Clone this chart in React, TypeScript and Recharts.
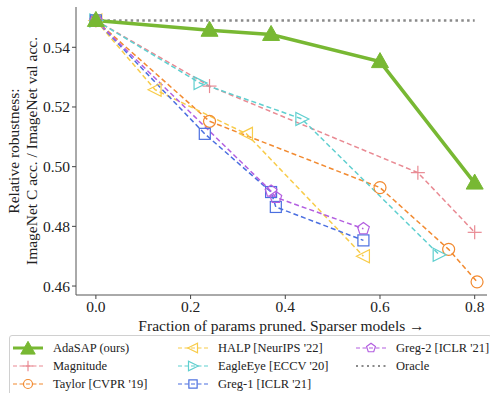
import React from 'react'
import { LineChart, Line, XAxis, YAxis } from 'recharts'

const xTicks = [0, 0.2, 0.4, 0.6, 0.8]
const yTicks = [0.46, 0.48, 0.5, 0.52, 0.54]

const adasapX = [0, 0.24, 0.37, 0.6, 0.8]
const adasapY = [0.549, 0.5457, 0.5443, 0.5352, 0.4945]
const magnitudeX = [0, 0.24, 0.68, 0.8]
const magnitudeY = [0.549, 0.527, 0.498, 0.478]
const taylorX = [0, 0.24, 0.6, 0.745, 0.805]
const taylorY = [0.549, 0.5152, 0.493, 0.4723, 0.4614]
const halpX = [0, 0.125, 0.318, 0.565]
const halpY = [0.549, 0.5258, 0.511, 0.47]
const eagleX = [0, 0.22, 0.435, 0.725]
const eagleY = [0.549, 0.528, 0.516, 0.4705]
const greg1X = [0, 0.23, 0.37, 0.38, 0.565]
const greg1Y = [0.549, 0.511, 0.4915, 0.4865, 0.4753]
const greg2X = [0, 0.37, 0.38, 0.565]
const greg2Y = [0.549, 0.4918, 0.4897, 0.4792]
const oracleX = [0, 0.8]
const oracleY = [0.549, 0.549]

const zip = (xs: number[], ys: number[]) => xs.map((x, i) => ({ x, y: ys[i] }))

const FONT = '"Liberation Serif", "Times New Roman", serif'

type Kind = 'tri' | 'plus' | 'circle' | 'left' | 'right' | 'square' | 'pent' | 'none'

function shape(kind: Kind, cx: number, cy: number, color: string, s = 1) {
  const sw = 1.2
  switch (kind) {
    case 'tri':
      return <polygon points={`${cx},${cy - 9 * s} ${cx - 8.5 * s},${cy + 6 * s} ${cx + 8.5 * s},${cy + 6 * s}`} fill={color} stroke={color} />
    case 'plus':
      return (
        <g stroke={color} strokeWidth={sw}>
          <line x1={cx - 7 * s} y1={cy} x2={cx + 7 * s} y2={cy} />
          <line x1={cx} y1={cy - 7 * s} x2={cx} y2={cy + 7 * s} />
        </g>
      )
    case 'circle':
      return <circle cx={cx} cy={cy} r={6 * s} fill="none" stroke={color} strokeWidth={sw} />
    case 'left':
      return <polygon points={`${cx - 7 * s},${cy} ${cx + 6 * s},${cy - 6.5 * s} ${cx + 6 * s},${cy + 6.5 * s}`} fill="none" stroke={color} strokeWidth={sw} />
    case 'right':
      return <polygon points={`${cx + 7 * s},${cy} ${cx - 6 * s},${cy - 6.5 * s} ${cx - 6 * s},${cy + 6.5 * s}`} fill="none" stroke={color} strokeWidth={sw} />
    case 'square':
      return <rect x={cx - 5.5 * s} y={cy - 5.5 * s} width={11 * s} height={11 * s} fill="none" stroke={color} strokeWidth={sw} />
    case 'pent': {
      const r = 6.2 * s
      const pts = [0, 1, 2, 3, 4]
        .map((k) => {
          const a = -Math.PI / 2 + (k * 2 * Math.PI) / 5
          return `${cx + r * Math.cos(a)},${cy + r * Math.sin(a)}`
        })
        .join(' ')
      return <polygon points={pts} fill="none" stroke={color} strokeWidth={sw} />
    }
    default:
      return null
  }
}

const dotFor = (kind: Kind, color: string) => (props: any) => {
  const { cx, cy, index } = props
  if (cx == null || cy == null) return <g key={index} />
  return <g key={index}>{shape(kind, cx, cy, color)}</g>
}

const series = [
  { name: 'AdaSAP (ours)', data: zip(adasapX, adasapY), color: '#78b833', kind: 'tri' as Kind, width: 3.5, dash: undefined },
  { name: 'Magnitude', data: zip(magnitudeX, magnitudeY), color: '#e98a93', kind: 'plus' as Kind, width: 1.5, dash: '5 3' },
  { name: "Taylor [CVPR '19]", data: zip(taylorX, taylorY), color: '#f28a30', kind: 'circle' as Kind, width: 1.5, dash: '5 3' },
  { name: "HALP [NeurIPS '22]", data: zip(halpX, halpY), color: '#f8cc4a', kind: 'left' as Kind, width: 1.5, dash: '5 3' },
  { name: "EagleEye [ECCV '20]", data: zip(eagleX, eagleY), color: '#5fcfcf', kind: 'right' as Kind, width: 1.5, dash: '5 3' },
  { name: "Greg-1 [ICLR '21]", data: zip(greg1X, greg1Y), color: '#4b6fe0', kind: 'square' as Kind, width: 1.5, dash: '5 3' },
  { name: "Greg-2 [ICLR '21]", data: zip(greg2X, greg2Y), color: '#b35fe0', kind: 'pent' as Kind, width: 1.5, dash: '5 3' },
  { name: 'Oracle', data: zip(oracleX, oracleY), color: '#8a8a8a', kind: 'none' as Kind, width: 2.5, dash: '2.5 3.3' },
]

const drawOrder = [7, 1, 2, 3, 4, 5, 6, 0]
const legendCols = [[0, 1, 2], [3, 4, 5], [6, 7]]

function YLabel(props: any) {
  const { viewBox } = props
  const cy = viewBox.y + viewBox.height / 2
  return (
    <g fontFamily={FONT} fontSize={15.5} fill="#222">
      <text x={13} y={cy} transform={`rotate(-90 13 ${cy})`} textAnchor="middle" dominantBaseline="central">
        Relative robustness:
      </text>
      <text x={31} y={cy} transform={`rotate(-90 31 ${cy})`} textAnchor="middle" dominantBaseline="central">
        ImageNet C acc. / ImageNet val acc.
      </text>
    </g>
  )
}

function LegendIcon({ s }: { s: (typeof series)[number] }) {
  return (
    <svg width={32} height={16} style={{ display: 'block' }}>
      <line x1={1} y1={8} x2={31} y2={8} stroke={s.color} strokeWidth={s.kind === 'tri' ? 3 : s.width === 2.5 ? 2.2 : 1.2} strokeDasharray={s.kind === 'tri' ? undefined : s.kind === 'none' ? '2 3.5' : '4 2.5'} />
      {s.kind === 'tri' ? shape('tri', 16, 9, s.color, 0.85) : shape(s.kind, 16, 8, s.color, 0.75)}
    </svg>
  )
}

export default function App() {
  return (
    <div style={{ position: 'fixed', left: 0, top: 0, width: 490, height: 393, background: '#fff', overflow: 'hidden' }}>
      <LineChart width={490} height={393} margin={{ top: 7, right: 3, left: 0, bottom: 60 }}>
        <XAxis
          dataKey="x"
          type="number"
          domain={[-0.042, 0.826]}
          ticks={xTicks}
          allowDataOverflow
          tickFormatter={(v: number) => v.toFixed(1)}
          tick={{ fill: '#222', fontSize: 15.5, fontFamily: FONT }}
          tickSize={4}
          tickLine={{ stroke: '#444' }}
          axisLine={{ stroke: '#555' }}
          height={38}
          label={{ value: 'Fraction of params pruned. Sparser models \u2192', position: 'insideBottom', offset: 2, fill: '#222', fontSize: 15.5, fontFamily: FONT }}
        />
        <XAxis xAxisId="top" orientation="top" dataKey="x" type="number" domain={[-0.042, 0.826]} tick={false} tickLine={false} axisLine={{ stroke: '#999' }} height={0} />
        <YAxis
          type="number"
          domain={[0.457, 0.5535]}
          ticks={yTicks}
          allowDataOverflow
          tickFormatter={(v: number) => v.toFixed(2)}
          tick={{ fill: '#222', fontSize: 15.5, fontFamily: FONT }}
          tickSize={4}
          tickLine={{ stroke: '#444' }}
          axisLine={{ stroke: '#555' }}
          width={76}
          label={{ content: YLabel }}
        />
        <YAxis yAxisId="right" orientation="right" type="number" domain={[0.457, 0.5535]} tick={false} tickLine={false} axisLine={{ stroke: '#999' }} width={0} />
        {drawOrder.map((i) => {
          const s = series[i]
          return (
            <Line
              key={s.name}
              name={s.name}
              data={s.data}
              dataKey="y"
              type="linear"
              stroke={s.color}
              strokeWidth={s.width}
              strokeDasharray={s.dash}
              dot={s.kind === 'none' ? false : dotFor(s.kind, s.color)}
              activeDot={false}
              isAnimationActive={false}
            />
          )
        })}
      </LineChart>
      <div
        style={{
          position: 'absolute',
          left: 9,
          top: 335,
          width: 483,
          height: 62,
          border: '1px solid #d0d0d0',
          borderRadius: 3,
          boxSizing: 'border-box',
          fontFamily: FONT,
          fontSize: 12.5,
          color: '#222',
        }}
      >
        {legendCols.map((col, ci) => (
          <div key={ci} style={{ position: 'absolute', left: [2, 167, 345][ci], top: 3 }}>
            {col.map((i) => (
              <div key={i} style={{ display: 'flex', alignItems: 'center', height: 18, gap: 9 }}>
                <LegendIcon s={series[i]} />
                <span style={{ whiteSpace: 'nowrap' }}>{series[i].name}</span>
              </div>
            ))}
          </div>
        ))}
      </div>
    </div>
  )
}
